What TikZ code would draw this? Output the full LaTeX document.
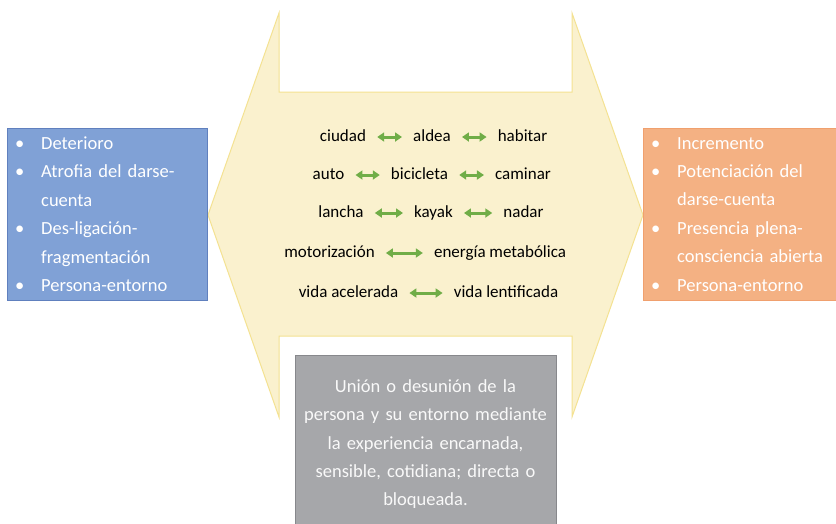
\documentclass[tikz,border=0pt]{standalone}
\usepackage{fontspec}
\setmainfont{Carlito}
\usepackage{tikz}
\usetikzlibrary{calc,arrows.meta}

\definecolor{hexfill}{RGB}{250,241,206}
\definecolor{hexline}{RGB}{244,226,146}
\definecolor{bluefill}{RGB}{128,161,214}
\definecolor{blueline}{RGB}{96,128,190}
\definecolor{orangefill}{RGB}{244,177,131}
\definecolor{orangeline}{RGB}{240,160,110}
\definecolor{grayfill}{RGB}{166,167,170}
\definecolor{grayline}{RGB}{135,136,140}
\definecolor{arrowgreen}{RGB}{112,173,71}

\newcommand{\bitem}[1]{\noindent\hangindent=26pt\makebox[26pt][l]{\textbullet}#1\par}

\tikzset{
  sidebox/.style={anchor=north west,text=white,minimum width=200pt,minimum height=172pt,
    text width=184pt,inner xsep=8pt,align=left,font=\fontsize{18.5}{28.4}\selectfont},
  word/.style={inner sep=0pt,text height=12pt,text depth=4pt,font=\fontsize{17}{20}\selectfont},
  link/.style={{Triangle[length=7pt,width=9pt]}-{Triangle[length=7pt,width=9pt]},arrowgreen,line width=3pt,
    shorten >=11pt,shorten <=11pt}
}

\begin{document}
\begin{tikzpicture}[x=1pt,y=-1pt]
                                     \useasboundingbox (0,0) rectangle (836,523);
                                     \fill[white] (0,0) rectangle (836,523);
                                     \draw[hexline,fill=hexfill,line width=1pt] (279,13) -- (279,92) -- (572,92) -- (572,13) -- (643,215) -- (572,417)
                                         -- (572,336) -- (279,336) -- (279,417) -- (208,215) -- cycle;
                                     \node[sidebox,fill=bluefill,draw=blueline](loss)at(7,128){\bitem{Deterioro}\bitem{Atrofia del darse-\newline cuenta}\bitem{Des-ligación-\newline fragmentación}\bitem{Persona-entorno}};
                                     \node[sidebox,fill=orangefill,draw=orangeline](gain)at(643,128){\bitem{Incremento}\bitem{Potenciación del\newline darse-cuenta}\bitem{Presencia plena-\newline consciencia abierta}\bitem{Persona-entorno}};
                                     \node[anchor=north,fill=grayfill,draw=grayline,text=white!95!gray,minimum width=261pt,minimum height=178pt,
                                         text width=245pt,align=center,font=\fontsize{18.5}{28.3}\selectfont](core)at(425.5,355)
                                         {Unión o desunión de la\\persona y su entorno mediante\\la experiencia encarnada,\\sensible, cotidiana; directa o\\bloqueada.};
                                     \node[word](ciudad)at(343,137){ciudad};
                                     \node[word](aldea)at(432,137){aldea};
                                     \node[word](habitar)at(522.5,137){habitar};
                                     \node[word](auto)at(328.5,175){auto};
                                     \node[word](bicicleta)at(419.5,175){bicicleta};
                                     \node[word](caminar)at(523,175){caminar};
                                     \node[word](lancha)at(341,213){lancha};
                                     \node[word](kayak)at(433.5,213){kayak};
                                     \node[word](nadar)at(523.5,213){nadar};
                                     \node[word](motor)at(329.5,253){motorización};
                                     \node[word](energia)at(500,253){energía metabólica};
                                     \node[word](rapida)at(348.5,293){vida acelerada};
                                     \node[word](lenta)at(506,293){vida lentificada};
                                     \draw[link](ciudad)--(aldea);
                                     \draw[link](aldea)--(habitar);
                                     \draw[link](auto)--(bicicleta);
                                     \draw[link](bicicleta)--(caminar);
                                     \draw[link](lancha)--(kayak);
                                     \draw[link](kayak)--(nadar);
                                     \draw[link](motor)--(energia);
                                     \draw[link](rapida)--(lenta);
                                 \end{tikzpicture}
\end{document}
